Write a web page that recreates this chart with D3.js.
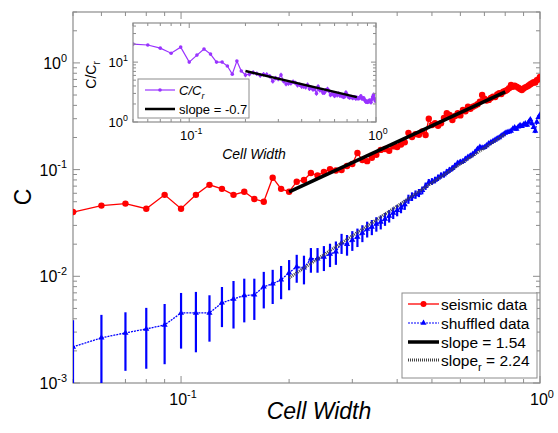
<!DOCTYPE html>
<html><head><meta charset="utf-8">
<script src="https://cdn.jsdelivr.net/npm/d3@7"></script>
<style>body{margin:0;background:#fff} text{font-family:"Liberation Sans",Arial,sans-serif;fill:#000}</style>
</head><body><svg id="c" width="558" height="433"></svg>
<script>
const cellWidth = [0.05,0.06,0.07,0.08,0.09,0.10,0.11,0.12,0.13,0.14,0.15,0.16,0.17,0.18,0.19,0.20,
0.21,0.22,0.23,0.24,0.25,0.26,0.27,0.28,0.29,0.30,0.31,0.32,0.33,0.34,0.35,0.36,0.37,0.38,0.39,0.40,
0.41,0.42,0.43,0.44,0.45,0.46,0.47,0.48,0.49,0.50,0.51,0.52,0.53,0.54,0.55,0.56,0.57,0.58,0.59,0.60,
0.61,0.62,0.63,0.64,0.65,0.66,0.67,0.68,0.69,0.70,0.71,0.72,0.73,0.74,0.75,0.76,0.77,0.78,0.79,0.80,
0.81,0.82,0.83,0.84,0.85,0.86,0.87,0.88,0.89,0.90,0.91,0.92,0.93,0.94,0.95,0.96,0.97,0.98,0.99,1.00];

const seismic = [0.040,0.046,0.048,0.043,0.058,0.043,0.058,0.072,0.066,0.058,0.062,0.053,0.050,0.084,0.066,0.062,
0.077,0.080,0.093,0.088,0.095,0.101,0.098,0.099,0.108,0.113,0.143,0.123,0.120,0.129,0.138,0.153,0.156,0.150,0.165,0.163,
0.172,0.180,0.221,0.202,0.215,0.212,0.228,0.211,0.300,0.262,0.272,0.258,0.272,0.305,0.338,0.326,0.292,0.318,0.338,0.322,
0.363,0.352,0.389,0.372,0.389,0.398,0.410,0.434,0.500,0.462,0.445,0.450,0.470,0.483,0.478,0.505,0.520,0.512,0.538,0.545,
0.558,0.580,0.622,0.598,0.612,0.600,0.585,0.570,0.558,0.575,0.590,0.600,0.615,0.630,0.645,0.660,0.655,0.690,0.700,0.740];

const shuffled = [0.00218,0.00265,0.00295,0.00321,0.00350,0.00454,0.00454,0.00454,0.00564,0.00614,0.00660,0.00670,0.00800,0.00850,0.00930,0.01080,
0.0123,0.0120,0.0146,0.0146,0.0152,0.0162,0.0170,0.0206,0.0200,0.0219,0.0234,0.0255,0.0278,0.0290,0.0310,0.0323,0.0345,0.0368,0.0393,0.0415,
0.0440,0.0470,0.0530,0.0560,0.0585,0.0605,0.0640,0.0700,0.0760,0.0775,0.0800,0.0840,0.0880,0.0900,0.0950,0.0990,0.1030,0.1090,0.1150,0.1180,
0.1200,0.1260,0.1310,0.1350,0.1400,0.1470,0.1560,0.1630,0.1600,0.1620,0.1680,0.1760,0.1800,0.1850,0.1900,0.1960,0.2000,0.2080,0.2130,0.2200,
0.2240,0.2260,0.2300,0.2420,0.2480,0.2400,0.2520,0.2600,0.2550,0.2650,0.2700,0.2620,0.2800,0.2950,0.2700,0.2500,0.2300,0.2800,0.3100,0.3260];

const shuffledErr = [0.0017,0.0017,0.00165,0.00185,0.0020,0.00244,0.0026,0.0021,0.0023,0.0029,0.0029,0.0028,0.0030,0.0030,0.0032,0.0034,
0.0036,0.0036,0.0038,0.0038,0.0040,0.0040,0.0042,0.0044,0.0044,0.0046,0.0046,0.0046,0.0047,0.0047,0.0048,0.0048,0.0048,0.0049,0.0049,0.0050,
0.0050,0.0051,0.0052,0.0052,0.0053,0.0053,0.0054,0.0055,0.0055,0.0056,0.0057,0.0058,0.0058,0.0059,0.0060,0.0061,0.0062,0.0062,0.0063,0.0064,
0.0065,0.0066,0.0067,0.0068,0.0069,0.0070,0.0071,0.0072,0.0073,0.0074,0.0075,0.0076,0.0077,0.0078,0.0079,0.0080,0.0081,0.0082,0.0083,0.0084,
0.0085,0.0086,0.0087,0.0088,0.0089,0.0090,0.0091,0.0092,0.0093,0.0094,0.0095,0.0096,0.0097,0.0098,0.0099,0.0100,0.0101,0.0102,0.0103,0.0104];

const ratio = [20.0,19.3,17.1,14.1,17.8,10.0,13.1,16.5,13.6,10.0,10.0,8.6,6.3,10.4,7.1,6.1,
6.3,6.7,6.4,6.0,6.25,6.2,5.8,4.8,5.4,5.2,6.1,4.8,4.3,4.4,4.45,4.7,4.5,4.1,4.2,3.9,
3.9,3.8,4.2,3.6,3.7,3.5,3.55,3.0,3.9,3.4,3.4,3.07,3.1,3.4,3.56,3.3,2.83,2.92,2.94,2.73,
3.0,2.8,2.97,2.76,2.78,2.7,2.63,2.66,3.1,2.85,2.65,2.56,2.61,2.61,2.52,2.58,2.6,2.46,2.53,2.48,
2.49,2.57,2.7,2.47,2.47,2.5,2.32,2.19,2.19,2.17,2.19,2.29,2.2,2.14,2.39,2.64,2.85,2.46,2.26,2.27];

const fitX = [0.2, 0.8], fitC = [0.0618, 0.535];
const fitRX = [0.2, 0.8], fitRC = [0.00966, 0.215];
const insetFitX = [0.2, 0.79], insetFitC = [7.1, 2.6];

const yTickExps = [-3, -2, -1, 0];
const xTickExps = [-1, 0];
const insetYTickExps = [0, 1];
const insetXTickExps = [-1, 0];
const legendLabels = ["seismic data", "shuffled data", "slope = 1.54", "slope", "r", " = 2.24"];

const svg = d3.select("#c");
const axisCol = "#8c8c8c";

const x = d3.scaleLog().domain([0.05, 1]).range([73, 540]);
const y = d3.scaleLog().domain([1e-3, 3]).range([383, 12]);

svg.append("defs").append("clipPath").attr("id","clipMain")
  .append("rect").attr("x",73).attr("y",12).attr("width",467).attr("height",371);

function ticksBox(g, xs, ys, majorX, majorY, L1, L2) {
  const [x0,x1] = xs.range(), [y0,y1] = ys.range();
  xs.ticks().forEach(t => {
    const maj = majorX.some(m => Math.abs(Math.log10(t) - m) < 1e-6);
    const L = maj ? L1 : L2, px = xs(t);
    g.append("line").attr("x1",px).attr("x2",px).attr("y1",y0).attr("y2",y0-L).attr("stroke",axisCol);
    g.append("line").attr("x1",px).attr("x2",px).attr("y1",y1).attr("y2",y1+L).attr("stroke",axisCol);
  });
  ys.ticks().forEach(t => {
    const maj = majorY.some(m => Math.abs(Math.log10(t) - m) < 1e-6);
    const L = maj ? L1 : L2, py = ys(t);
    g.append("line").attr("y1",py).attr("y2",py).attr("x1",x0).attr("x2",x0+L).attr("stroke",axisCol);
    g.append("line").attr("y1",py).attr("y2",py).attr("x1",x1).attr("x2",x1-L).attr("stroke",axisCol);
  });
  g.append("rect").attr("x",x0).attr("y",y1).attr("width",x1-x0).attr("height",y0-y1)
    .attr("fill","none").attr("stroke",axisCol).attr("stroke-width",1.2);
}

function powLabel(g, px, py, exp, size, anchor) {
  const t = g.append("text").attr("x",px).attr("y",py).attr("font-size",size).attr("text-anchor",anchor);
  t.append("tspan").text("10");
  t.append("tspan").attr("font-size",size*0.68).attr("dy",-size*0.45).text(String(exp).replace("-","-"));
  return t;
}

// main frame
const gMain = svg.append("g");
ticksBox(gMain, x, y, xTickExps, yTickExps, 7, 4);
yTickExps.forEach(e => powLabel(gMain, 67, y(Math.pow(10,e)) + 6, e, 16, "end"));
xTickExps.forEach(e => powLabel(gMain, x(Math.pow(10,e)) + 2, 405, e, 16, "middle"));

svg.append("text").attr("x",319).attr("y",419).attr("font-size",23).attr("font-style","italic")
  .attr("text-anchor","middle").text("Cell Width");
svg.append("text").attr("transform","translate(31,197) rotate(-90)").attr("font-size",23)
  .attr("text-anchor","middle").text("C");

const data = cellWidth.map((w,i) => ({w, s: seismic[i], b: shuffled[i], e: shuffledErr[i], r: ratio[i]}));
const plot = svg.append("g").attr("clip-path","url(#clipMain)");

// shuffled error bars
plot.selectAll(".eb").data(data).enter().append("line")
  .attr("x1",d=>x(d.w)).attr("x2",d=>x(d.w))
  .attr("y1",d=>y(d.b + d.e)).attr("y2",d=>y(Math.max(d.b - d.e, 5e-4)))
  .attr("stroke","#0000ff").attr("stroke-width",2.2);
plot.append("path").datum(data)
  .attr("d", d3.line().x(d=>x(d.w)).y(d=>y(d.b)))
  .attr("fill","none").attr("stroke","#0000ff").attr("stroke-width",1.3).attr("stroke-dasharray","2,1");
plot.selectAll(".tb").data(data).enter().append("path")
  .attr("d", d3.symbol().type(d3.symbolTriangle).size(16))
  .attr("transform", d=>`translate(${x(d.w)},${y(d.b)})`).attr("fill","#0000ff");

// seismic
plot.append("path").datum(data)
  .attr("d", d3.line().x(d=>x(d.w)).y(d=>y(d.s)))
  .attr("fill","none").attr("stroke","#ff0000").attr("stroke-width",1.3);
plot.selectAll(".sc").data(data).enter().append("circle")
  .attr("cx",d=>x(d.w)).attr("cy",d=>y(d.s)).attr("r",3.2).attr("fill","#ff0000");

// fit lines
plot.append("line").attr("x1",x(fitX[0])).attr("y1",y(fitC[0])).attr("x2",x(fitX[1])).attr("y2",y(fitC[1]))
  .attr("stroke","#000").attr("stroke-width",3.5);
plot.append("line").attr("x1",x(fitRX[0])).attr("y1",y(fitRC[0])).attr("x2",x(fitRX[1])).attr("y2",y(fitRC[1]))
  .attr("stroke","#444").attr("stroke-width",3).attr("stroke-dasharray","1,1");

// main legend
const lg = svg.append("g");
lg.append("rect").attr("x",402).attr("y",293).attr("width",135).attr("height",85)
  .attr("fill","#fff").attr("stroke",axisCol).attr("stroke-width",1);
const ly = [304, 323, 342, 360];
// seismic
lg.append("line").attr("x1",408).attr("x2",439).attr("y1",ly[0]).attr("y2",ly[0]).attr("stroke","#ff0000").attr("stroke-width",1.3);
lg.append("circle").attr("cx",423.5).attr("cy",ly[0]).attr("r",3).attr("fill","#ff0000");
// shuffled
lg.append("line").attr("x1",408).attr("x2",439).attr("y1",ly[1]).attr("y2",ly[1]).attr("stroke","#0000ff").attr("stroke-width",1.2).attr("stroke-dasharray","2,1");
lg.append("path").attr("d",d3.symbol().type(d3.symbolTriangle).size(16)).attr("transform",`translate(423.5,${ly[1]})`).attr("fill","#0000ff");
lg.append("line").attr("x1",408).attr("x2",439).attr("y1",ly[2]).attr("y2",ly[2]).attr("stroke","#000").attr("stroke-width",3.5);
lg.append("line").attr("x1",408).attr("x2",439).attr("y1",ly[3]).attr("y2",ly[3]).attr("stroke","#444").attr("stroke-width",3).attr("stroke-dasharray","1,1");
[0,1,2].forEach(i => lg.append("text").attr("x",441).attr("y",ly[i]+5.5).attr("font-size",15.5).text(legendLabels[i]));
const t4 = lg.append("text").attr("x",441).attr("y",ly[3]+5.5).attr("font-size",15.5);
t4.append("tspan").text(legendLabels[3]);
t4.append("tspan").attr("font-size",11).attr("dy",5).text(legendLabels[4]);
t4.append("tspan").attr("dy",-5).text(legendLabels[5]);

// inset
const xi = d3.scaleLog().domain([0.05, 1]).range([133, 376]);
const yi = d3.scaleLog().domain([1, 45]).range([122, 23]);
const gIn = svg.append("g");
gIn.append("rect").attr("x",133).attr("y",23).attr("width",243).attr("height",99).attr("fill","#fff");
svg.select("defs").append("clipPath").attr("id","clipIn")
  .append("rect").attr("x",133).attr("y",23).attr("width",243).attr("height",99);
const pin = gIn.append("g").attr("clip-path","url(#clipIn)");
pin.selectAll(".ie").data(data.filter(d=>d.w>=0.2)).enter().append("line")
  .attr("x1",d=>xi(d.w)).attr("x2",d=>xi(d.w))
  .attr("y1",d=>yi(d.r*1.09)).attr("y2",d=>yi(d.r/1.09))
  .attr("stroke","#9933ff").attr("stroke-width",1.2);
pin.append("path").datum(data).attr("d", d3.line().x(d=>xi(d.w)).y(d=>yi(d.r)))
  .attr("fill","none").attr("stroke","#9933ff").attr("stroke-width",1.2);
pin.selectAll(".ic").data(data).enter().append("circle")
  .attr("cx",d=>xi(d.w)).attr("cy",d=>yi(d.r)).attr("r",1.8).attr("fill","#9933ff");
pin.append("line").attr("x1",xi(insetFitX[0])).attr("y1",yi(insetFitC[0])).attr("x2",xi(insetFitX[1])).attr("y2",yi(insetFitC[1]))
  .attr("stroke","#000").attr("stroke-width",2.5);
ticksBox(gIn, xi, yi, insetXTickExps, insetYTickExps, 5, 3);
insetYTickExps.forEach(e => powLabel(gIn, 128, yi(Math.pow(10,e)) + 5, e, 13, "end"));
insetXTickExps.forEach(e => powLabel(gIn, xi(Math.pow(10,e)) + 2, 140, e, 13, "middle"));
gIn.append("text").attr("x",254).attr("y",159).attr("font-size",14).attr("font-style","italic")
  .attr("text-anchor","middle").text("Cell Width");
const yl = gIn.append("text").attr("transform","translate(96,75) rotate(-90)").attr("font-size",14).attr("text-anchor","middle");
yl.append("tspan").text("C/C");
yl.append("tspan").attr("font-size",10).attr("dy",4).text("r");

// inset legend
gIn.append("rect").attr("x",138).attr("y",79).attr("width",111).attr("height",39)
  .attr("fill","#fff").attr("stroke",axisCol).attr("stroke-width",1);
gIn.append("line").attr("x1",145).attr("x2",175).attr("y1",90).attr("y2",90).attr("stroke","#9933ff").attr("stroke-width",1.2);
gIn.append("circle").attr("cx",160).attr("cy",90).attr("r",1.8).attr("fill","#9933ff");
gIn.append("line").attr("x1",145).attr("x2",175).attr("y1",109).attr("y2",109).attr("stroke","#000").attr("stroke-width",2.5);
const il1 = gIn.append("text").attr("x",179).attr("y",94.5).attr("font-size",13).attr("font-style","italic");
il1.append("tspan").text("C/C");
il1.append("tspan").attr("font-size",9).attr("dy",4).text("r");
gIn.append("text").attr("x",179).attr("y",113.5).attr("font-size",13).text("slope = -0.7");
</script></body></html>
